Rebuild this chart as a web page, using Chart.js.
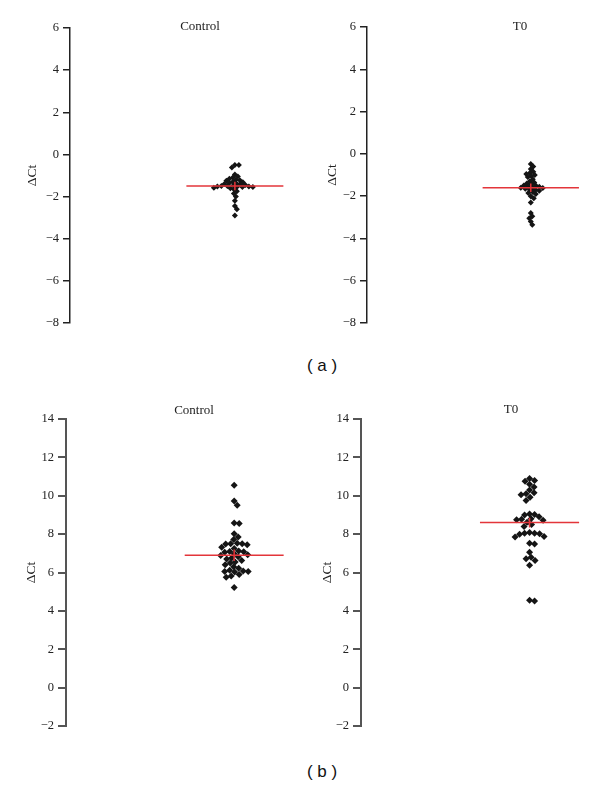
<!DOCTYPE html>
<html>
<head>
<meta charset="utf-8">
<script src="https://cdn.jsdelivr.net/npm/chart.js@4.4.1/dist/chart.umd.min.js"></script>
<style>
body { margin:0; width:600px; height:786px; background:#fff; position:relative; overflow:hidden; }
canvas { position:absolute; }
.tag { position:absolute; width:100px; text-align:center; font:17px "Liberation Sans", Arial, sans-serif; color:#111; }
</style>
</head>
<body>
<canvas id="aCtrl" width="300" height="345" style="left:0;top:0"></canvas>
<canvas id="aT0" width="300" height="345" style="left:300px;top:0"></canvas>
<canvas id="bCtrl" width="300" height="350" style="left:0;top:390px"></canvas>
<canvas id="bT0" width="300" height="350" style="left:300px;top:390px"></canvas>
<div class="tag" style="left:272px;top:356px">( a )</div>
<div class="tag" style="left:272px;top:762px">( b )</div>
<script>
// panel titles
var groups = ['Control', 'T0'];

// (a) delta Ct values
var ctrlA = [-0.5, -0.5, -0.62, -0.95, -1.05, -1.1, -1.15, -1.2, -1.22, -1.25, -1.3, -1.32, -1.35,
  -1.38, -1.4, -1.42, -1.45, -1.48, -1.5, -1.5, -1.52, -1.52, -1.55, -1.55, -1.55, -1.58, -1.6,
  -1.65, -1.75, -1.85, -2.0, -2.2, -2.45, -2.6, -2.9];
var t0A = [-0.48, -0.6, -0.72, -0.85, -0.9, -0.95, -1.0, -1.05, -1.1, -1.2, -1.3, -1.35, -1.4,
  -1.45, -1.5, -1.5, -1.55, -1.55, -1.6, -1.6, -1.62, -1.65, -1.7, -1.7, -1.75, -1.8, -1.85, -1.9,
  -2.0, -2.1, -2.3, -2.8, -2.95, -3.05, -3.2, -3.35];

// (b) delta Ct values
var ctrlB = [10.55, 9.72, 9.5, 8.55, 8.58, 8.02, 7.85, 7.72, 7.5, 7.5, 7.48, 7.52, 7.45, 7.32,
  7.25, 7.12, 7.1, 7.08, 7.05, 6.98, 6.92, 6.88, 6.82, 6.75, 6.7, 6.62, 6.55, 6.5, 6.4, 6.3, 6.22,
  6.12, 6.08, 6.05, 6.05, 6.02, 5.9, 5.82, 5.75, 5.22];
var t0B = [10.9, 10.8, 10.75, 10.6, 10.45, 10.3, 10.15, 10.1, 10.05, 9.92, 9.75, 9.05, 9.02, 9.0,
  8.9, 8.8, 8.78, 8.75, 8.72, 8.62, 8.5, 8.4, 8.08, 8.05, 8.05, 8.02, 8.0, 7.88, 7.85, 7.52, 7.48,
  7.05, 6.8, 6.72, 6.62, 6.38, 4.55, 4.52];

// mean lines and the small vertical bar at the mean
var means = [-1.5, -1.6, 6.9, 8.6];
var errs = [0.2, 0.2, 0.3, 0.25];

// axis ranges
var rangeA = [-8, 6];
var rangeB = [-2, 14];

var RED = '#e3353a';

var panelTitle = {
  id: 'panelTitle',
  afterDraw: function (chart, args, o) {
    var c = chart.ctx;
    c.save();
    c.font = '13px "Liberation Serif", serif';
    c.fillStyle = '#222';
    c.textAlign = 'center';
    c.textBaseline = 'middle';
    c.fillText(o.text, o.x, o.y);
    c.restore();
  }
};

function makePanel(id, values, mean, err, range, o) {
  var chart = new Chart(document.getElementById(id), {
    type: 'scatter',
    data: {
      datasets: [
        { data: [{x: -1, y: mean}, {x: 1, y: mean}], showLine: true, borderColor: RED, borderWidth: 1.5, pointRadius: 0, order: 0 },
        { data: [{x: 0, y: mean - err}, {x: 0, y: mean + err}], showLine: true, borderColor: RED, borderWidth: 1.5, pointRadius: 0, order: 0 },
        { data: values.map(function (v) { return {x: 0, y: v}; }), pointStyle: 'rectRot', pointRadius: o.r,
          backgroundColor: '#151515', borderWidth: 0, order: 1 }
      ]
    },
    options: {
      responsive: false,
      animation: false,
      events: [],
      layout: { padding: o.pad },
      plugins: {
        legend: { display: false },
        tooltip: { enabled: false },
        panelTitle: { text: o.title, x: o.tx, y: o.ty }
      },
      scales: {
        x: { type: 'linear', min: -3.4, max: 1.25, display: false },
        y: {
          min: range[0], max: range[1],
          afterFit: function (s) { s.width = o.axisW; },
          ticks: {
            stepSize: 2, padding: 4, color: '#222',
            font: { family: '"Liberation Serif", serif', size: 12.5 },
            callback: function (v) { return String(v).replace('-', '\u2212'); }
          },
          grid: { drawOnChartArea: false, drawTicks: true, tickLength: o.tick, tickColor: o.axisColor, lineWidth: o.axisWidth },
          border: { display: true, color: o.axisColor, width: o.axisWidth },
          title: { display: true, text: '\u0394Ct', color: '#222',
            font: { family: '"Liberation Serif", serif', size: 13.5 }, padding: { top: 4, bottom: 0 } }
        }
      }
    },
    plugins: [panelTitle]
  });

  // beeswarm spread of the points around x = 0, in pixels
  var xs = chart.scales.x, ys = chart.scales.y;
  var x0 = xs.getPixelForValue(0);
  var order = values.map(function (v, i) { return i; }).sort(function (a, b) { return values[b] - values[a]; });
  var placed = [];
  var offs = [];
  order.forEach(function (i) {
    var py = ys.getPixelForValue(values[i]);
    var off = 0;
    for (var k = 0; k < 600; k++) {
      var cand = (k % 2 ? 1 : -1) * Math.ceil(k / 2) * 0.5;
      var ok = placed.every(function (p) {
        var dx = cand - p.x, dy = py - p.y;
        return dx * dx + dy * dy >= o.d * o.d;
      });
      if (ok) { off = cand; break; }
    }
    placed.push({x: off, y: py});
    offs[i] = off;
  });
  chart.data.datasets[2].data = values.map(function (v, i) {
    return {x: xs.getValueForPixel(x0 + offs[i]), y: v};
  });
  chart.update('none');
  return chart;
}

makePanel('aCtrl', ctrlA, means[0], errs[0], rangeA, {
  title: groups[0], tx: 200, ty: 27, pad: {left: 20, right: 4.5, top: 28, bottom: 22},
  axisW: 50, tick: 7, axisColor: '#222', axisWidth: 1.5, r: 3, d: 3.6
});
makePanel('aT0', t0A, means[1], errs[1], rangeA, {
  title: groups[1], tx: 220, ty: 27, pad: {left: 20, right: 9, top: 27, bottom: 22},
  axisW: 47, tick: 7, axisColor: '#222', axisWidth: 1.5, r: 3, d: 3.4
});
makePanel('bCtrl', ctrlB, means[2], errs[2], rangeB, {
  title: groups[0], tx: 194, ty: 21, pad: {left: 19, right: 4, top: 29, bottom: 14},
  axisW: 47, tick: 8, axisColor: '#555', axisWidth: 2, r: 3.5, d: 5
});
makePanel('bT0', t0B, means[3], errs[3], rangeB, {
  title: groups[1], tx: 211, ty: 20, pad: {left: 15, right: 8.5, top: 29, bottom: 14},
  axisW: 46, tick: 8, axisColor: '#555', axisWidth: 2, r: 3.5, d: 5
});
</script>
</body>
</html>
